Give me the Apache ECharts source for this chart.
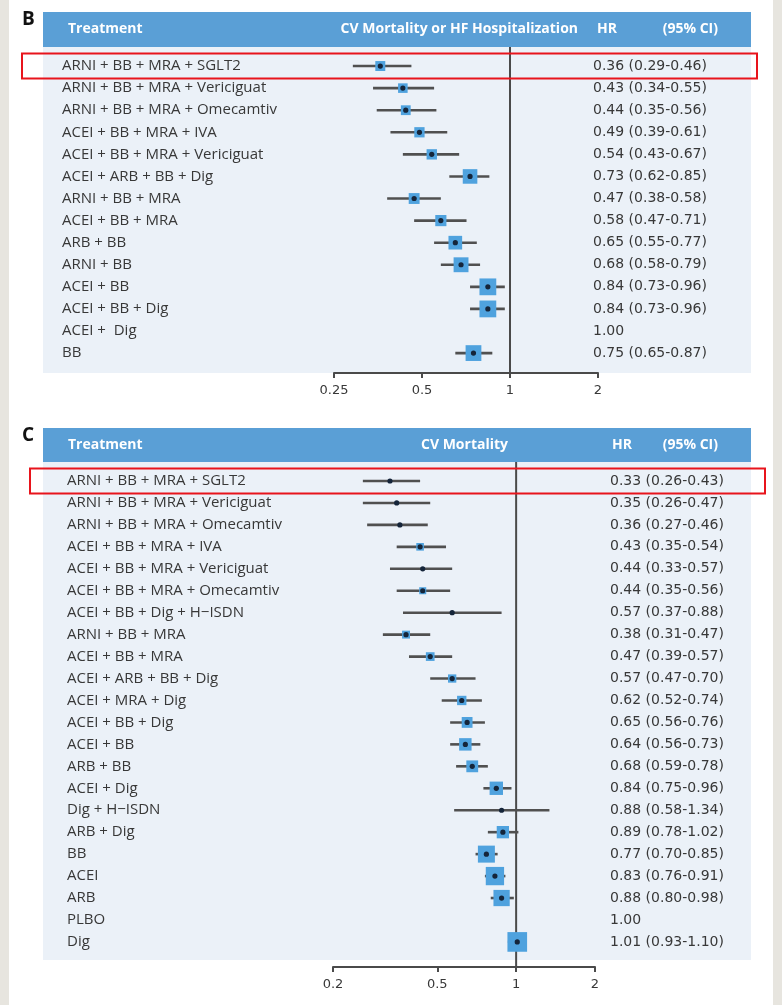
<!DOCTYPE html>
<html>
<head>
<meta charset="utf-8">
<script src="https://cdn.jsdelivr.net/npm/echarts@6/dist/echarts.min.js"></script>
<style>
  html, body { margin: 0; padding: 0; background: #e7e5df; }
  #chart { width: 782px; height: 1005px; }
</style>
</head>
<body>
<div id="chart"></div>
<script>
// Panel B: CV mortality or HF hospitalization
const treatmentsB = [
  'ARNI + BB + MRA + SGLT2',
  'ARNI + BB + MRA + Vericiguat',
  'ARNI + BB + MRA + Omecamtiv',
  'ACEI + BB + MRA + IVA',
  'ACEI + BB + MRA + Vericiguat',
  'ACEI + ARB + BB + Dig',
  'ARNI + BB + MRA',
  'ACEI + BB + MRA',
  'ARB + BB',
  'ARNI + BB',
  'ACEI + BB',
  'ACEI + BB + Dig',
  'ACEI +  Dig',
  'BB'
];
const hrB = [0.36, 0.43, 0.44, 0.49, 0.54, 0.73, 0.47, 0.58, 0.65, 0.68, 0.84, 0.84, 1.00, 0.75];
const loB = [0.29, 0.34, 0.35, 0.39, 0.43, 0.62, 0.38, 0.47, 0.55, 0.58, 0.73, 0.73, null, 0.65];
const hiB = [0.46, 0.55, 0.56, 0.61, 0.67, 0.85, 0.58, 0.71, 0.77, 0.79, 0.96, 0.96, null, 0.87];
const ticksB = [0.25, 0.5, 1, 2];

// Panel C: CV mortality
const treatmentsC = [
  'ARNI + BB + MRA + SGLT2',
  'ARNI + BB + MRA + Vericiguat',
  'ARNI + BB + MRA + Omecamtiv',
  'ACEI + BB + MRA + IVA',
  'ACEI + BB + MRA + Vericiguat',
  'ACEI + BB + MRA + Omecamtiv',
  'ACEI + BB + Dig + H\u2212ISDN',
  'ARNI + BB + MRA',
  'ACEI + BB + MRA',
  'ACEI + ARB + BB + Dig',
  'ACEI + MRA + Dig',
  'ACEI + BB + Dig',
  'ACEI + BB',
  'ARB + BB',
  'ACEI + Dig',
  'Dig + H\u2212ISDN',
  'ARB + Dig',
  'BB',
  'ACEI',
  'ARB',
  'PLBO',
  'Dig'
];
const hrC = [0.33, 0.35, 0.36, 0.43, 0.44, 0.44, 0.57, 0.38, 0.47, 0.57, 0.62, 0.65, 0.64, 0.68, 0.84, 0.88, 0.89, 0.77, 0.83, 0.88, 1.00, 1.01];
const loC = [0.26, 0.26, 0.27, 0.35, 0.33, 0.35, 0.37, 0.31, 0.39, 0.47, 0.52, 0.56, 0.56, 0.59, 0.75, 0.58, 0.78, 0.70, 0.76, 0.80, null, 0.93];
const hiC = [0.43, 0.47, 0.46, 0.54, 0.57, 0.56, 0.88, 0.47, 0.57, 0.70, 0.74, 0.76, 0.73, 0.78, 0.96, 1.34, 1.02, 0.85, 0.91, 0.98, null, 1.10];
const ticksC = [0.2, 0.5, 1, 2];

const FONT = "'Open Sans', 'Noto Sans', sans-serif";
const NUM_FONT = "'DejaVu Sans', 'Open Sans', sans-serif";
const HEAD_BLUE = '#5a9fd6';
const BODY_BLUE = '#ebf1f8';
const BOX_BLUE = '#4fa2de';
const TEXT = '#383838';

const fmt = v => v.toFixed(2);
const hrText = (hr, lo, hi) => hr.map((v, i) =>
  lo[i] == null ? fmt(v) : fmt(v) + ' (' + fmt(lo[i]) + '-' + fmt(hi[i]) + ')');

const panels = [
  {
    letter: 'B', title: 'CV Mortality or HF Hospitalization',
    names: treatmentsB, hr: hrB, lo: loB, hi: hiB, ticks: ticksB, logBase: 2,
    headTop: 12, headBottom: 47, bodyBottom: 373,
    gridTop: 55, rowH: 22.08, gridLeft: 334, gridRight: 598, axisY: 373,
    labelX: 62, hrX: 593, titleRight: 578, hrHeadX: 597,
    boxK: 4.6, minBox: 0,
    letterY: 20, redX: 22, redW: 735
  },
  {
    letter: 'C', title: 'CV Mortality',
    names: treatmentsC, hr: hrC, lo: loC, hi: hiC, ticks: ticksC, logBase: 10,
    headTop: 428, headBottom: 462, bodyBottom: 960,
    gridTop: 470, rowH: 21.95, gridLeft: 333, gridRight: 595, axisY: 967,
    labelX: 67, hrX: 610, titleRight: 508, hrHeadX: 612,
    boxK: 3.3, minBox: 6.8,
    letterY: 436, redX: 30, redW: 735
  }
];

const grids = [], xAxes = [], yAxes = [], series = [], graphics = [];

// page: white sheet on a grey surround
graphics.push({ type: 'rect', shape: { x: 9, y: 0, width: 764, height: 1005 }, style: { fill: '#ffffff' }, z: -10 });

panels.forEach((p, k) => {
  const n = p.names.length;
  const gridBottom = p.gridTop + p.rowH * n;
  grids.push({ left: p.gridLeft, top: p.gridTop, width: p.gridRight - p.gridLeft, height: p.rowH * n });

  xAxes.push({
    type: 'log', gridIndex: k, logBase: p.logBase,
    min: p.ticks[0], max: p.ticks[p.ticks.length - 1],
    offset: p.axisY - gridBottom,
    axisLine: { show: true, lineStyle: { color: '#4a4a4a', width: 2 } },
    axisTick: { show: true, customValues: p.ticks, length: 5, lineStyle: { color: '#4a4a4a', width: 2 } },
    axisLabel: { customValues: p.ticks, margin: 11, fontSize: 13, color: TEXT, fontFamily: NUM_FONT, formatter: v => String(v) },
    splitLine: { show: false }
  });

  yAxes.push({
    type: 'category', gridIndex: k, data: p.names, inverse: true,
    axisLine: { show: false }, axisTick: { show: false }, splitLine: { show: false },
    axisLabel: { align: 'left', margin: p.gridLeft - p.labelX, fontSize: 15, color: TEXT, fontFamily: FONT }
  });
  yAxes.push({
    type: 'category', gridIndex: k, position: 'right', data: hrText(p.hr, p.lo, p.hi), inverse: true,
    axisLine: { show: false }, axisTick: { show: false }, splitLine: { show: false },
    axisLabel: { align: 'left', margin: p.hrX - p.gridRight, fontSize: 14, color: TEXT, fontFamily: NUM_FONT }
  });

  // line of no effect (HR = 1)
  series.push({
    type: 'custom', xAxisIndex: k, yAxisIndex: 2 * k, data: [[1, 0]], silent: true, z: 3,
    renderItem: (params, api) => {
      const x = api.coord([1, 0])[0];
      return {
        type: 'line',
        shape: { x1: x, y1: p.headBottom, x2: x, y2: p.axisY },
        style: { stroke: '#4a4a4a', lineWidth: 2 }
      };
    }
  });

  // hazard ratio with 95% CI; box side scales with precision (1 / log CI width)
  const data = [];
  p.hr.forEach((v, i) => { if (p.lo[i] != null) data.push([v, i, p.lo[i], p.hi[i]]); });
  series.push({
    type: 'custom', xAxisIndex: k, yAxisIndex: 2 * k, data, silent: true, z: 4,
    encode: { x: 0, y: 1 },
    renderItem: (params, api) => {
      const row = api.value(1);
      const c = api.coord([api.value(0), row]);
      const a = api.coord([api.value(2), row]);
      const b = api.coord([api.value(3), row]);
      const side = p.boxK / Math.log(api.value(3) / api.value(2));
      const children = [{
        type: 'line', shape: { x1: a[0], y1: c[1], x2: b[0], y2: c[1] },
        style: { stroke: '#505050', lineWidth: 2.6 }
      }];
      if (side >= p.minBox) {
        children.push({
          type: 'rect', shape: { x: c[0] - side / 2, y: c[1] - side / 2, width: side, height: side },
          style: { fill: BOX_BLUE }
        });
      }
      children.push({ type: 'circle', shape: { cx: c[0], cy: c[1], r: 2.6 }, style: { fill: '#15253a' } });
      return { type: 'group', children };
    }
  });

  // header bar, body panel, titles
  graphics.push(
    { type: 'rect', shape: { x: 43, y: p.headTop, width: 708, height: p.headBottom - p.headTop }, style: { fill: HEAD_BLUE }, z: -5 },
    { type: 'rect', shape: { x: 43, y: p.headBottom, width: 708, height: p.bodyBottom - p.headBottom }, style: { fill: BODY_BLUE }, z: -5 },
    { type: 'text', x: 22, y: p.letterY, style: { text: p.letter, font: "bold 19px " + FONT, fill: '#111', verticalAlign: 'middle' }, z: 5 }
  );
  const hy = (p.headTop + p.headBottom) / 2;
  const headFont = "bold 14px " + FONT;
  graphics.push(
    { type: 'text', x: 68, y: hy, style: { text: 'Treatment', font: headFont, fill: '#fff', verticalAlign: 'middle' }, z: 5 },
    { type: 'text', x: p.titleRight, y: hy, style: { text: p.title, font: headFont, fill: '#fff', align: 'right', verticalAlign: 'middle' }, z: 5 },
    { type: 'text', x: p.hrHeadX, y: hy, style: { text: 'HR', font: headFont, fill: '#fff', verticalAlign: 'middle' }, z: 5 },
    { type: 'text', x: 718, y: hy, style: { text: '(95% CI)', font: headFont, fill: '#fff', align: 'right', verticalAlign: 'middle' }, z: 5 }
  );
  // highlight frame around the first row
  const ry = p.gridTop + p.rowH / 2;
  graphics.push({
    type: 'rect', shape: { x: p.redX, y: ry - 12.5, width: p.redW, height: 25 },
    style: { fill: 'none', stroke: '#e8141c', lineWidth: 2 }, z: 100
  });
});

const chart = echarts.init(document.getElementById('chart'), null, { renderer: 'canvas' });
chart.setOption({
  animation: false,
  backgroundColor: '#e7e5df',
  grid: grids,
  xAxis: xAxes,
  yAxis: yAxes,
  series,
  graphic: { elements: graphics }
});
</script>
</body>
</html>
